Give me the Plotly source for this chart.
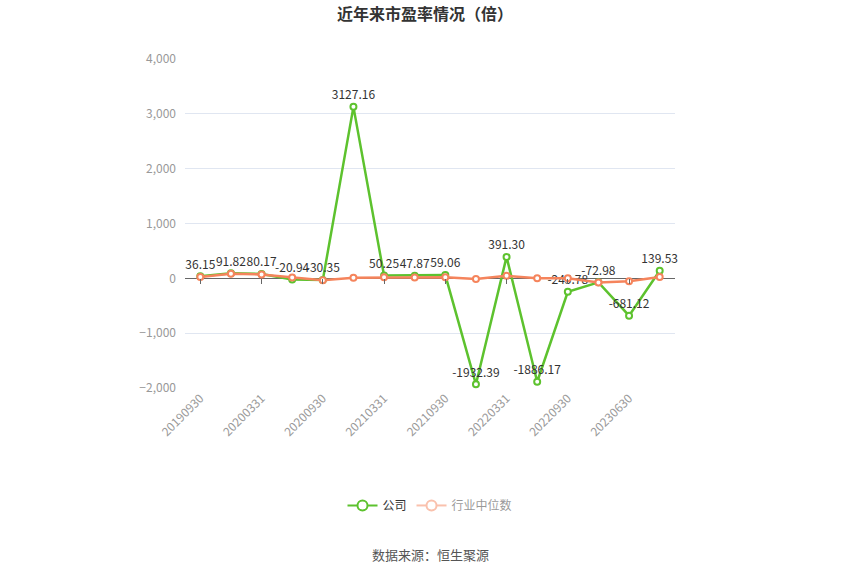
import plotly.graph_objects as go

# report dates (category axis)
dates = ['20190930', '20191231', '20200331', '20200630', '20200930', '20201231',
         '20210331', '20210630', '20210930', '20211231', '20220331', '20220630',
         '20220930', '20221231', '20230630', '20230930']
company_pe = [36.15, 91.82, 80.17, -20.94, -30.35, 3127.16, 50.25, 47.87, 59.06,
              -1932.39, 391.30, -1886.17, -245.78, -72.98, -681.12, 139.53]
industry_pe = [25, 85, 70, 15, -35, 12, 18, 15, 20, -10, 45, 0, 0, -75, -55, 25]
tick_dates = dates[0::2]

green = '#5dc22e'
orange = '#f5845c'

fig = go.Figure()

fig.add_trace(go.Scatter(
    x=dates, y=company_pe, mode='lines+markers+text', name='公司',
    line=dict(color=green, width=2.5),
    marker=dict(symbol='circle', size=6, color='white', line=dict(color=green, width=2)),
    text=['%.2f' % v for v in company_pe], textposition='top center',
    textfont=dict(size=12, color='#333333'), cliponaxis=False,
    showlegend=False, hoverinfo='x+y'))

fig.add_trace(go.Scatter(
    x=dates, y=industry_pe, mode='lines+markers', name='行业中位数',
    line=dict(color=orange, width=2.5),
    marker=dict(symbol='circle', size=6, color='white', line=dict(color=orange, width=2)),
    showlegend=False, hoverinfo='x+y'))

# legend entries
fig.add_trace(go.Scatter(
    x=[None], y=[None], mode='lines+markers', name='公司',
    line=dict(color=green, width=2),
    marker=dict(symbol='circle', size=10, color='white', line=dict(color=green, width=2))))
fig.add_trace(go.Scatter(
    x=[None], y=[None], mode='lines+markers', name='行业中位数', visible='legendonly',
    line=dict(color=orange, width=2),
    marker=dict(symbol='circle', size=10, color='white', line=dict(color=orange, width=2))))

# axis line with ticks at y = 0
fig.add_trace(go.Scatter(x=dates, y=[None] * len(dates), xaxis='x2', showlegend=False,
                         hoverinfo='skip'))

fig.update_layout(
    width=850, height=574,
    margin=dict(l=185, r=175, t=59, b=186),
    paper_bgcolor='white', plot_bgcolor='white',
    font=dict(family='Noto Sans CJK SC, sans-serif', color='#666666'),
    title=dict(text='<b>近年来市盈率情况（倍）</b>', x=0.5, xanchor='center', y=0.975,
               yanchor='middle', font=dict(size=16, color='#333333')),
    xaxis=dict(type='category', categoryorder='array', categoryarray=dates,
               tickmode='array', tickvals=tick_dates, ticktext=tick_dates,
               tickangle=-45, tickfont=dict(size=12, color='#999999'),
               showgrid=False, zeroline=False, showline=False, ticks='',
               range=[-0.5, len(dates) - 0.5]),
    xaxis2=dict(type='category', overlaying='x', anchor='free', position=1 / 3,
                matches='x', tickmode='array', tickvals=tick_dates,
                showticklabels=False, ticks='outside', ticklen=5, tickcolor='#666666',
                showline=False, showgrid=False, zeroline=False),
    yaxis=dict(range=[-2000, 4000], tickvals=[-2000, -1000, 0, 1000, 2000, 3000, 4000],
               tickformat=',', tickfont=dict(size=12, color='#999999'),
               gridcolor='#e0e6f1', gridwidth=1, zeroline=True, zerolinecolor='#666666',
               zerolinewidth=1, showline=False, ticks='', ticklabelstandoff=8),
    legend=dict(orientation='h', x=0.5, xanchor='center', y=-0.357, yanchor='middle',
                font=dict(size=12, color='#333333'), itemwidth=30),
    annotations=[dict(text='数据来源：恒生聚源', x=0.5, xref='paper', y=-0.505, yref='paper',
                      yanchor='middle', showarrow=False,
                      font=dict(size=13, color='#555555'))],
)

fig.write_html('out.html', config={'displayModeBar': False},
               post_script="document.body.style.margin='0';")
